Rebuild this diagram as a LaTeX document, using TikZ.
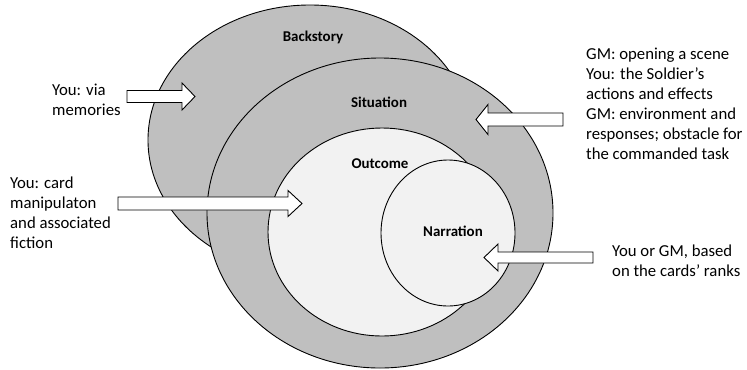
\documentclass[tikz,border=0pt]{standalone}
\usepackage{fontspec}
\setmainfont{Carlito}
\definecolor{ringgray}{HTML}{BFBFBF}
\definecolor{coregray}{HTML}{F2F2F2}

\begin{document}
\begin{tikzpicture}[x=1bp, y=-1bp,
  ring/.style={draw=black, line width=0.9bp, fill=ringgray},
  core/.style={draw=black, line width=0.9bp, fill=coregray},
  layername/.style={font=\bfseries\fontsize{15}{18}\selectfont, anchor=base, inner sep=0pt},
  note/.style={font=\fontsize{16.8}{20}\selectfont, align=left, anchor=base west, inner sep=0pt},
  fatarrow/.style={draw=black, line width=0.9bp, fill=white, line join=miter}
]
\useasboundingbox (0,0) rectangle (747,369);

% nested layers, outermost first
\draw[ring] (310,140) ellipse [x radius=162bp, y radius=135bp];
\draw[ring] (380,213) ellipse [x radius=173bp, y radius=155bp];
\draw[core] (382,232) ellipse [x radius=114bp, y radius=104bp];
\draw[core] (448,233) ellipse [x radius=67bp, y radius=73bp];

\node[layername] (backstory) at (313,41.7) {Backstory};
\node[layername] (situation) at (379,107.7) {Situation};
\node[layername] (outcome) at (380,168) {Outcome};
\node[layername] (narration) at (453,236.7) {Narration};

% block arrows: tail x / head base x / tip x / mid y / shaft half / head half
\foreach \tl/\hb/\tp/\my/\sh/\hh in {127/182/195/96.5/6/13.5, 118/288/302/203.5/6.5/13,
    563/488/476/119.5/6.5/15, 593/498/484/257.5/5.5/13.5}
  \draw[fatarrow] (\tl,\my-\sh) -- (\hb,\my-\sh) -- (\hb,\my-\hh) -- (\tp,\my)
    -- (\hb,\my+\hh) -- (\hb,\my+\sh) -- (\tl,\my+\sh) -- cycle;

% notes (placed by the baseline of their last line)
\node[note] (memories) at (52,115) {You: via\\memories};
\node[note] (cards) at (10,248) {You: card\\manipulaton\\and associated\\fiction};
\node[note] (scene) at (586,159) {GM: opening a scene\\You: the Soldier’s\\actions and effects\\GM: environment and\\responses; obstacle for\\the commanded task};
\node[note] (ranks) at (612,276.7) {You or GM, based\\on the cards’ ranks};
\end{tikzpicture}
\end{document}
